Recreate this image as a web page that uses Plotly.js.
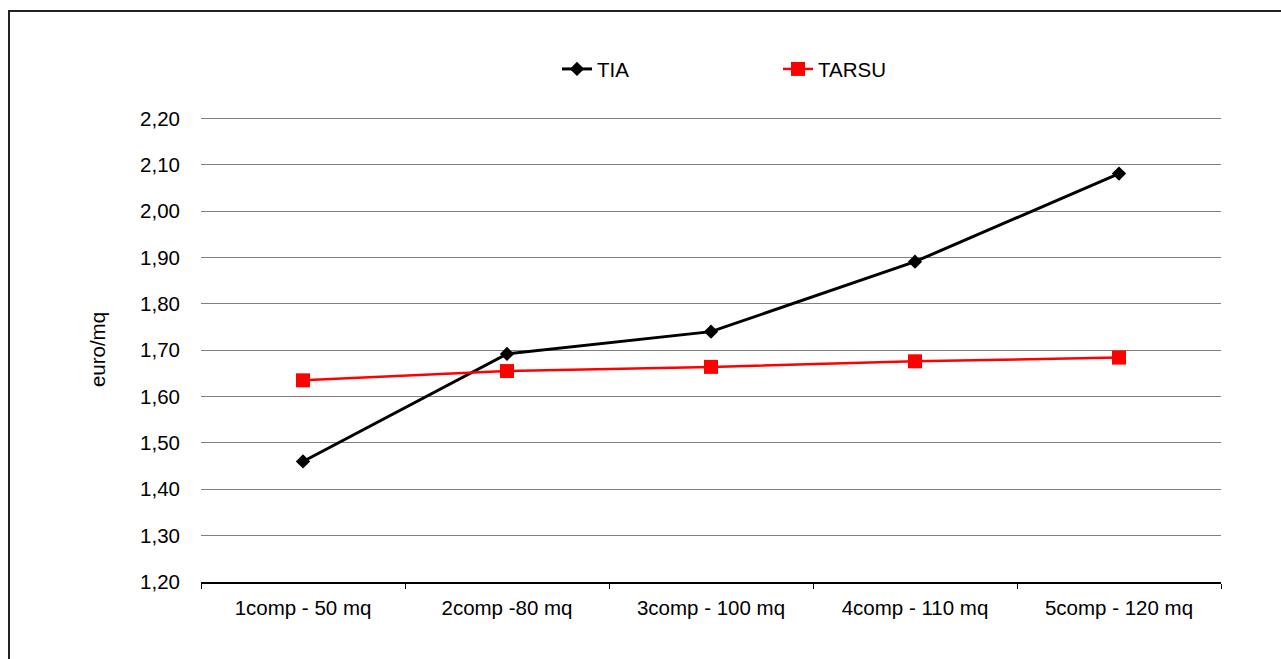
<!DOCTYPE html>
<html>
<head>
<meta charset="utf-8">
<script src="https://cdn.plot.ly/plotly-3.0.1.min.js"></script>
<style>
  html, body { margin: 0; padding: 0; background: #fff; overflow: hidden; }
  #frame { position: absolute; left: 8px; top: 10px; width: 1290px; height: 700px; border: 2px solid #222; box-sizing: border-box; pointer-events: none; z-index: 2; }
  #chart { position: absolute; left: 0; top: 0; width: 1281px; height: 659px; }
</style>
</head>
<body>
<div id="chart"></div>
<div id="frame"></div>
<script>
const categories = ["1comp - 50 mq", "2comp -80 mq", "3comp - 100 mq", "4comp - 110 mq", "5comp - 120 mq"];
const tiaValues = [1.46, 1.692, 1.74, 1.891, 2.081];
const tarsuValues = [1.635, 1.655, 1.664, 1.676, 1.684];
const yTickValues = [1.2, 1.3, 1.4, 1.5, 1.6, 1.7, 1.8, 1.9, 2.0, 2.1, 2.2];

const fontFamily = "'Liberation Sans', Arial, sans-serif";
const fontSize = 20.5;

const traces = [
  {
    x: categories, y: tiaValues, name: "TIA", type: "scatter", mode: "lines+markers",
    line: { color: "#000000", width: 3 },
    marker: { symbol: "diamond", size: 11, color: "#000000" }
  },
  {
    x: categories, y: tarsuValues, name: "TARSU", type: "scatter", mode: "lines+markers",
    line: { color: "#ff0000", width: 2.5 },
    marker: { symbol: "square", size: 14, color: "#ff0000" }
  }
];

const layout = {
  width: 1281, height: 659,
  margin: { l: 201, r: 60, t: 117, b: 77, pad: 0 },
  paper_bgcolor: "#ffffff", plot_bgcolor: "#ffffff",
  separators: ",.",
  font: { family: fontFamily, size: fontSize, color: "#000000" },
  showlegend: true,
  legend: {
    orientation: "h", x: 0.349, xanchor: "left", y: 1.103, yanchor: "middle",
    font: { family: fontFamily, size: fontSize, color: "#000000" },
    entrywidth: 176, entrywidthmode: "pixels", bgcolor: "rgba(0,0,0,0)"
  },
  xaxis: {
    type: "category", range: [-0.5, 4.5],
    showline: true, linecolor: "#000000", linewidth: 1.5,
    ticks: "outside", ticklen: 5, tickcolor: "#000000", tickson: "boundaries",
    showgrid: false, zeroline: false, fixedrange: true,
    tickfont: { family: fontFamily, size: fontSize, color: "#000000" },
    ticklabelstandoff: 7
  },
  yaxis: {
    range: [1.2, 2.203], tickvals: yTickValues, tickformat: ".2f",
    showline: false, ticks: "", showgrid: true, gridcolor: "#7f7f7f", gridwidth: 1,
    zeroline: false, fixedrange: true,
    tickfont: { family: fontFamily, size: fontSize, color: "#000000" },
    ticklabelstandoff: 20,
    title: { text: "euro/mq", font: { family: fontFamily, size: fontSize, color: "#000000" }, standoff: 28 }
  }
};

Plotly.newPlot("chart", traces, layout, { displayModeBar: false, staticPlot: true });
</script>
</body>
</html>
